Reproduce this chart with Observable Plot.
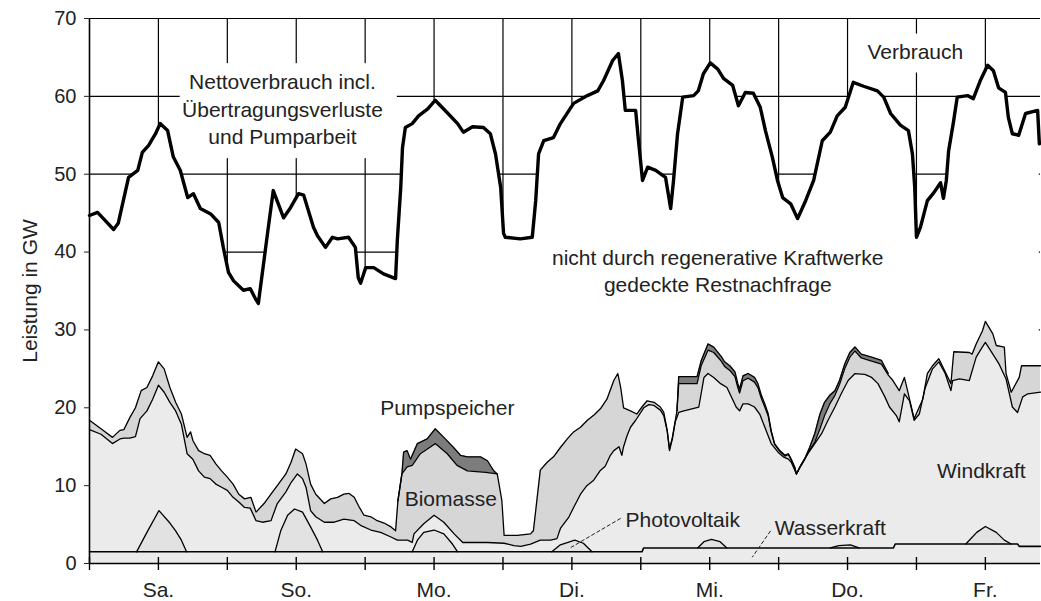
<!DOCTYPE html>
<html><head><meta charset="utf-8">
<script src="https://cdn.jsdelivr.net/npm/d3@7"></script>
<script src="https://cdn.jsdelivr.net/npm/@observablehq/plot@0.6"></script>
<style>
body{margin:0;background:#fff;}
#chart svg{display:block;}
</style></head><body><div id="chart"></div>
<script>
// x = hours since Saturday 00:00, y = GW
const dayLabels = ["Sa.","So.","Mo.","Di.","Mi.","Do.","Fr."];
const tickHours = [0,12,24,36,48,60,72,84,96,108,120,132,144,156];
const noonHours = [12,36,60,84,108,132,156];
const yTicks = [0,10,20,30,40,50,60,70];

// Verbrauch (net consumption incl. losses and pumping)
const verbrauch = [[0,44.7],[1.4,45.1],[2.3,44.4],[4.2,42.9],[5.0,43.7],[6.8,49.6],[8.4,50.5],[9.2,52.8],[10.3,53.7],[11.5,55.2],[12.3,56.5],[13.6,55.6],[14.6,52.2],[15.8,50.5],[17.1,47.0],[18.1,47.5],[19.3,45.6],[21.1,44.9],[22.5,43.8],[23.3,40.6],[24.2,37.4],[25.1,36.3],[26.8,35.1],[28.0,35.3],[28.9,34.0],[29.4,33.4],[31.0,42.4],[32.0,47.9],[33.8,44.4],[35.0,45.7],[36.4,47.5],[37.3,47.3],[39.0,43.2],[39.7,42.1],[41.1,40.6],[42.3,41.9],[43.2,41.7],[45.1,41.9],[46.3,40.6],[46.8,36.7],[47.2,36.0],[48.1,38.0],[49.5,38.0],[51.2,37.2],[53.3,36.6],[53.6,41.5],[54.2,48.3],[54.5,53.4],[55.0,56.0],[56.2,56.5],[57.3,57.5],[58.9,58.4],[60.2,59.5],[62.3,57.9],[64.1,56.5],[65.1,55.4],[66.7,56.1],[68.6,56.0],[69.8,55.2],[70.7,52.6],[71.6,48.3],[72.1,42.4],[72.4,41.9],[75.0,41.7],[77.1,41.9],[77.7,46.6],[78.2,52.6],[79.1,54.3],[80.8,54.7],[82.0,56.5],[84.3,59.1],[86.7,60.1],[88.5,60.7],[89.5,62.0],[91.1,64.6],[92.1,65.5],[92.8,62.0],[93.3,58.2],[95.1,58.2],[95.6,54.3],[96.3,49.2],[97.2,50.9],[98.6,50.5],[100.3,49.6],[101.2,45.6],[101.7,49.2],[102.4,55.2],[103.3,59.9],[105.2,60.1],[106.0,60.7],[106.9,62.9],[108.1,64.3],[109.4,63.5],[110.4,62.3],[112.0,61.4],[113.0,58.8],[114.2,60.5],[115.6,60.4],[116.8,58.6],[117.7,55.6],[118.9,52.2],[119.8,49.2],[120.7,47.0],[122.1,46.2],[123.3,44.3],[124.7,46.6],[126.1,49.2],[127.6,54.3],[129.0,55.4],[130.2,57.5],[131.6,58.6],[133.0,61.8],[134.8,61.3],[137.2,60.7],[138.3,59.9],[139.5,57.8],[141.2,56.3],[142.6,55.6],[143.3,52.6],[143.7,48.3],[144.0,41.9],[144.7,43.2],[145.9,46.6],[147.0,47.6],[148.2,48.9],[148.7,46.9],[149.2,49.2],[149.6,53.0],[150.4,56.5],[151.1,59.9],[152.9,60.1],[153.9,59.7],[155.1,62.0],[156.4,64.0],[157.4,63.3],[158.3,61.1],[159.5,60.5],[160.0,57.3],[160.7,55.2],[161.8,55.0],[163.0,57.8],[165.1,58.2],[165.4,53.9]];

// upper edge of Pumpspeicher layer (only where it shows)
const pumpMo = [[53.7,8.0],[54.4,11.5],[54.7,14.3],[55.3,14.5],[55.9,13.4],[57.1,15.4],[58.8,16.0],[60.2,17.3],[61.7,16.2],[63.4,14.9],[64.6,13.9],[65.8,13.7],[68.1,13.7],[69.3,13.2],[70.4,11.9],[71.0,11.5]];
const pumpMiDo = [[102.3,19.6],[102.6,24.0],[105.8,24.0],[106.5,26.0],[107.7,28.2],[108.7,27.8],[110,26.6],[110.6,25.9],[111.5,25.4],[112.4,24.6],[112.9,23.1],[113.2,22.4],[113.8,24.1],[114.7,24.4],[115.8,23.9],[116.4,23.1],[117,21.6],[117.6,20.5],[118.2,19.2],[118.7,17.1],[119.3,15.4],[120.2,14.5],[121.1,13.9],[121.7,14.1],[122.2,13.4],[122.8,12.4],[123.1,11.5],[123.7,12.4],[124.5,13.4],[125.4,14.9],[126.3,16.7],[127.2,19.2],[128,20.7],[128.9,21.6],[129.8,22.2],[130.6,23.5],[131.5,25.6],[132.4,27.1],[133.3,27.8],[134.4,26.9],[136.2,26.5],[137.9,26.1],[139.1,24.4]];

// upper edge of Biomasse layer
const bioTop = [[0,18.4],[2,17.3],[4,16.2],[5.3,17.1],[6,17.2],[7,18.7],[8,20.0],[9,22.2],[10,22.6],[11,24.1],[12,25.9],[13,25.0],[14,22.6],[15,20.7],[16,19.2],[17,16.2],[17.6,16.9],[18,15.8],[19,14.5],[20,14.1],[21,13.9],[22,12.8],[23,11.9],[24,11.1],[25,10.2],[26,8.9],[27,8.3],[28.1,8.5],[29,6.6],[30.4,7.7],[31.6,8.9],[32.7,10.0],[34.2,11.5],[35.1,13.0],[35.9,14.7],[37.1,14.1],[37.7,12.8],[38.5,10.2],[39.4,8.9],[40.9,7.7],[42,8.3],[43.2,8.5],[44.3,8.9],[45.2,9.0],[46.1,8.5],[47,7.2],[47.8,6.2],[49,6.0],[50.1,5.5],[51.3,5.2],[52.5,4.7],[53.3,4.2],[53.7,8.0],[54.4,11.5],[55.3,12.4],[56.2,12.6],[57.6,14.1],[60.2,15.4],[62.3,14.1],[64,12.6],[65.8,11.9],[69,11.7],[71,11.5],[71.8,8.1],[72.2,3.6],[74.5,3.6],[76.8,3.8],[77.3,4.2],[77.9,8.1],[78.5,12.0],[79.7,13.0],[80.8,13.7],[82,14.9],[83.2,16.0],[84.3,16.9],[85.5,17.5],[86.7,18.4],[87.9,19.1],[89,19.9],[90.1,21.1],[91.3,23.5],[92,24.4],[92.5,22.6],[93,20.0],[94.2,19.6],[95.3,19.2],[96.2,20.1],[97.1,20.9],[98.3,20.7],[99.4,20.1],[100,19.4],[100.6,17.1],[101,14.7],[101.5,16.2],[102.3,19.6],[102.6,23.1],[105.8,23.1],[106.5,25.4],[107.7,27.4],[108.7,27.1],[110,26.0],[110.6,25.3],[111.5,24.8],[112.4,24.0],[112.9,22.6],[113.2,21.9],[113.8,23.5],[114.7,23.8],[115.8,23.3],[116.4,22.6],[117,21.2],[117.6,20.1],[118.2,18.9],[118.7,16.9],[119.3,15.3],[120.2,14.4],[121.1,13.8],[121.7,14.0],[122.2,13.3],[122.8,12.3],[123.1,11.5],[123.7,12.3],[124.5,13.3],[125.4,14.6],[126.3,15.6],[127.2,17.3],[128,19.0],[128.9,20.5],[129.8,21.6],[130.6,23.0],[131.5,25.0],[132.4,26.5],[133.3,27.3],[134.4,26.4],[136.2,26.0],[137.9,25.6],[139.1,24.2],[139.9,23.5],[141.0,22.2],[141.9,23.9],[143.6,18.6],[145.1,21.1],[145.9,24.4],[146.8,25.4],[147.9,26.3],[148.9,24.8],[150.0,23.1],[150.5,27.2],[153.2,27.1],[153.7,26.9],[154.4,28.2],[155.5,29.9],[156.0,31.1],[157.3,29.5],[157.9,28.0],[159.3,27.8],[159.6,24.4],[160.5,22.0],[161.9,23.9],[162.3,25.4],[165.6,25.4]];

// upper edge of Windkraft layer
const windTop = [[0,17.2],[2,16.6],[4,15.4],[5.3,16.0],[6,16.1],[7,16.1],[8,16.3],[8.8,18.6],[10,19.6],[11,21.1],[12,22.9],[13,22.0],[14,20.7],[15,19.6],[16,17.9],[17,14.1],[18,13.4],[19,11.9],[20,11.1],[21,10.9],[22,10.2],[23,9.8],[24,9.4],[25,8.5],[26,7.9],[27,7.2],[28,7.1],[29,5.5],[30.1,5.3],[31.6,5.5],[32.7,7.7],[34.2,9.2],[35.1,10.4],[36.2,11.5],[37.1,10.9],[37.7,9.8],[38.5,6.8],[39.4,6.0],[40.9,5.3],[42.6,5.3],[44.3,5.7],[46.1,5.5],[47.2,4.9],[49,4.3],[50.7,4.0],[52.5,3.4],[53.6,3.0],[55.4,3.0],[56.2,2.7],[56.5,3.8],[58.2,5.1],[60,6.2],[61.7,5.3],[63.5,3.8],[65,2.7],[69.3,2.7],[72.2,2.6],[73.9,2.3],[75.1,2.2],[76.8,2.5],[78.5,3.0],[80.3,3.0],[81.4,3.2],[82,4.5],[83.5,6.0],[84.3,7.2],[85.5,8.9],[86.6,10.0],[87.8,10.7],[88.9,11.9],[89.8,12.5],[90.7,13.9],[91.3,14.5],[92.2,15.0],[92.7,13.9],[93,15.0],[93.6,16.4],[94.2,17.5],[95.1,18.4],[96,19.4],[96.5,20.0],[97.4,20.4],[98.3,20.3],[99.4,19.7],[100,19.0],[100.6,17.0],[101,14.5],[101.5,16.0],[102,18.2],[102.6,19.4],[103.5,19.6],[106.1,20.1],[107,23.9],[107.7,24.4],[108.7,23.9],[109.9,23.1],[111,22.6],[112.6,20.1],[113.2,19.6],[113.8,20.5],[114.7,20.5],[115.8,20.1],[116.7,19.2],[117.6,17.5],[118.7,15.4],[119.9,14.3],[120.8,13.7],[121.7,13.4],[122.2,13.0],[123.1,11.5],[124,12.8],[125.1,14.1],[126.3,15.4],[127.5,16.7],[128.6,18.4],[129.8,20.1],[130.9,21.8],[132.1,23.5],[133.3,24.4],[135,24.3],[136.2,23.9],[137.3,23.1],[138.5,21.4],[139.3,20.1],[140.5,19.0],[141.0,18.2],[141.9,21.8],[142.8,20.9],[143.6,18.4],[144.5,19.2],[145.5,22.5],[146.8,25.0],[147.9,25.9],[149.0,24.4],[150.0,22.2],[150.3,23.5],[151.5,23.7],[153.2,23.5],[154.4,26.5],[155.3,27.6],[156,28.4],[157.3,26.9],[158.4,25.6],[159.6,23.7],[160.7,20.1],[161.6,19.4],[162.5,21.4],[163.4,21.8],[165.6,22.0]];

// upper edge of Photovoltaik humps (one per day)
const pvSa = [[8.2,1.5],[10,4.0],[12.1,6.8],[14,5.2],[15,4.2],[16,3.0],[16.9,1.5]];
const pvSo = [[32.3,1.5],[33.3,4.2],[34.5,6.2],[35.7,7.0],[37.1,6.6],[38.5,4.7],[39.7,3.0],[40.6,1.5]];
const pvMo = [[56.2,1.5],[57.1,3.0],[58.2,4.0],[60,4.3],[61.7,3.8],[63.2,2.5],[64.1,1.5]];
const pvDi = [[80.5,1.5],[82,2.4],[84.5,3.0],[86,2.6],[87.5,1.5]];
const pvMi = [[105.9,2.0],[107,2.8],[108.3,3.1],[109.8,2.8],[111,2.0]];
const pvDo = [[129,2.0],[130.5,2.3],[132.5,2.4],[134,2.0]];
const pvFr = [[152.6,2.5],[154.5,4.0],[156,4.75],[157.9,4.0],[159.3,3.0],[160.5,2.5]];

// Wasserkraft
const wasser = [[0,1.5],[96.2,1.5],[96.5,2.0],[140,2.0],[140.3,2.5],[161.6,2.5],[161.9,2.2],[165.6,2.2]];

const rows = (pairs, seg = 0) => pairs.map(([h, v]) => ({h, v, seg}));
const pumpRows = [...rows(pumpMo, 0), ...rows(pumpMiDo, 1)];
const pvRows = [pvSa, pvSo, pvMo, pvDi, pvMi, pvDo, pvFr].flatMap((p, i) => rows(p, i));

const labels = [
  {h: 33.6, v: 61.8, t: "Nettoverbrauch incl."},
  {h: 33.6, v: 58.2, t: "Übertragungsverluste"},
  {h: 33.6, v: 54.7, t: "und Pumparbeit"},
  {h: 143.8, v: 65.6, t: "Verbrauch"},
  {h: 109.4, v: 39.2, t: "nicht durch regenerative Kraftwerke"},
  {h: 109.4, v: 35.7, t: "gedeckte Restnachfrage"},
  {h: 62.3, v: 19.9, t: "Pumpspeicher"},
  {h: 62.9, v: 8.3, t: "Biomasse"},
  {h: 103.3, v: 5.5, t: "Photovoltaik"},
  {h: 129.0, v: 4.5, t: "Wasserkraft"},
  {h: 155.3, v: 11.9, t: "Windkraft"}
];
const labelBoxes = [
  {x1: 15.8, x2: 53.6, y1: 52.0, y2: 64.2},
  {x1: 134.6, x2: 153.1, y1: 63.0, y2: 68.0}
];
const leaders = [
  {x1: 92.5, y1: 5.8, x2: 83.8, y2: 2.05},
  {x1: 118.6, y1: 4.2, x2: 115.4, y2: 0.8}
];

const lineW = 1.3;
const chart = Plot.plot({
  width: 1041,
  height: 601,
  marginLeft: 89,
  marginRight: 1,
  marginTop: 18,
  marginBottom: 38,
  style: {fontFamily: "'Liberation Sans', Arial, sans-serif", fontSize: "21px", color: "#222", background: "#fff"},
  x: {domain: [0, 165.6], axis: null},
  y: {domain: [0, 70], axis: null},
  marks: [
    // grid
    Plot.ruleY(yTicks.slice(1), {stroke: "#000", strokeWidth: 1.2}),
    Plot.ruleX(tickHours.slice(1), {y1: 0, y2: 70, stroke: "#000", strokeWidth: 1.2}),
    // white under consumption
    Plot.areaY(rows(verbrauch), {x: "h", y: "v", fill: "#fff"}),
    Plot.rect(labelBoxes, {x1: "x1", x2: "x2", y1: "y1", y2: "y2", fill: "#fff"}),
    // stacked layers painted top-down
    Plot.areaY(pumpRows, {x: "h", y: "v", z: "seg", fill: "#7c7c7c"}),
    Plot.areaY(rows(bioTop), {x: "h", y: "v", fill: "#d6d6d6"}),
    Plot.areaY(rows(windTop), {x: "h", y: "v", fill: "#ebebeb"}),
    Plot.areaY(pvRows, {x: "h", y: "v", z: "seg", fill: "#e2e2e2"}),
    Plot.areaY(rows(wasser), {x: "h", y: "v", fill: "#ebebeb"}),
    Plot.line(pumpRows, {x: "h", y: "v", z: "seg", stroke: "#000", strokeWidth: lineW}),
    Plot.line(rows(bioTop), {x: "h", y: "v", stroke: "#000", strokeWidth: lineW}),
    Plot.line(rows(windTop), {x: "h", y: "v", stroke: "#000", strokeWidth: lineW}),
    Plot.line(pvRows, {x: "h", y: "v", z: "seg", stroke: "#000", strokeWidth: lineW}),
    Plot.line(rows(wasser), {x: "h", y: "v", stroke: "#000", strokeWidth: 1.6}),
    // consumption
    Plot.line(rows(verbrauch), {x: "h", y: "v", stroke: "#000", strokeWidth: 3.4, strokeLinejoin: "round"}),
    // axes
    Plot.ruleY([0], {stroke: "#000", strokeWidth: 1.6}),
    Plot.ruleX([0], {y1: 0, y2: 70, stroke: "#000", strokeWidth: 1.6}),
    Plot.ruleX(tickHours, {y1: 0, y2: 0, insetTop: -6, insetBottom: -7, stroke: "#000", strokeWidth: 1.4}),
    Plot.axisY({ticks: yTicks, tickSize: 5, tickPadding: 8, label: null, fontSize: 20}),
    Plot.axisX({ticks: noonHours, tickFormat: h => dayLabels[(h - 12) / 24], tickSize: 0, tickPadding: 19, label: null, fontSize: 21}),
    Plot.text(["Leistung in GW"], {frameAnchor: "left", textAnchor: "middle", rotate: -90, dx: -59, fontSize: 21, fill: "#222"}),
    // annotations
    Plot.link(leaders, {x1: "x1", y1: "y1", x2: "x2", y2: "y2", stroke: "#222", strokeWidth: 1, strokeDasharray: "4,2"}),
    Plot.text(labels, {x: "h", y: "v", text: "t", fontSize: 21, fill: "#222"})
  ]
});
document.getElementById("chart").appendChild(chart);
</script></body></html>
